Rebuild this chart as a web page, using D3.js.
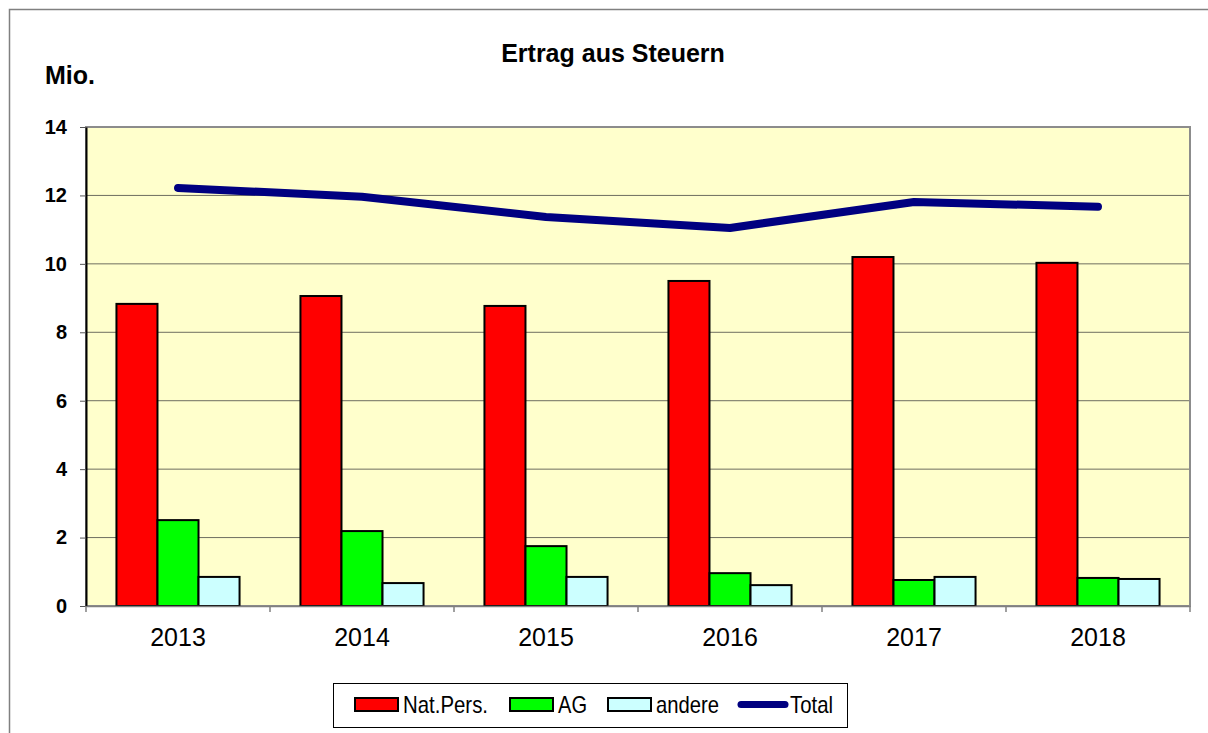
<!DOCTYPE html>
<html>
<head>
<meta charset="utf-8">
<script src="https://cdn.jsdelivr.net/npm/d3@7"></script>
<style>
  body { margin: 0; background: #fff; overflow: hidden; }
  svg { font-family: Arial, "Liberation Sans", sans-serif; display: block; }
</style>
</head>
<body>
<div id="chart"></div>
<script>
// data
const years = ["2013", "2014", "2015", "2016", "2017", "2018"];
const natPers = [8.83, 9.06, 8.77, 9.50, 10.20, 10.03];
const ag = [2.51, 2.19, 1.75, 0.96, 0.76, 0.82];
const andere = [0.85, 0.67, 0.85, 0.61, 0.85, 0.79];
const total = [12.22, 11.96, 11.37, 11.05, 11.81, 11.67];
const yTicks = [0, 2, 4, 6, 8, 10, 12, 14];

const seriesNames = ["Nat.Pers.", "AG", "andere"];
const seriesColors = ["#ff0000", "#00ff00", "#ccffff"];
const seriesData = [natPers, ag, andere];

const W = 1208, H = 733;
const margin = { top: 127, right: 18, bottom: 127, left: 86 };
const width = 1190 - margin.left;
const height = 606 - margin.top;

const svg = d3.select("#chart").append("svg")
  .attr("width", W).attr("height", H);

// outer frame (only left and top edges are visible in the picture)
svg.append("path")
  .attr("d", "M9.5," + H + "V9.5H" + W)
  .attr("fill", "none").attr("stroke", "#808080").attr("stroke-width", 1.5);

const g = svg.append("g")
  .attr("transform", "translate(" + margin.left + "," + margin.top + ")");

const x = d3.scaleBand().domain(years).range([0, width]);
const y = d3.scaleLinear().domain([0, 14]).range([height, 0]);
const barW = x.bandwidth() * 0.223;
const xs = d3.scaleBand().domain(seriesNames)
  .range([0, barW * 3]);

// plot background
g.append("rect")
  .attr("width", width).attr("height", height)
  .attr("fill", "#ffffcc");

// gridlines
g.selectAll(".grid")
  .data(yTicks.filter(d => d > 0))
  .join("line")
  .attr("x1", 0).attr("x2", width)
  .attr("y1", d => y(d)).attr("y2", d => y(d))
  .attr("stroke", "#6e6e60").attr("stroke-width", 1);

// plot border
g.append("rect")
  .attr("width", width).attr("height", height)
  .attr("fill", "none").attr("stroke", "#8c8c8c").attr("stroke-width", 2);

// bars
seriesData.forEach((vals, si) => {
  g.selectAll(".bar" + si)
    .data(vals)
    .join("rect")
    .attr("x", (d, i) => x(years[i]) + (x.bandwidth() - barW * 3) / 2 + xs(seriesNames[si]))
    .attr("y", d => y(d))
    .attr("width", barW)
    .attr("height", d => height - y(d))
    .attr("fill", seriesColors[si])
    .attr("stroke", "#000").attr("stroke-width", 2);
});

// total line
const line = d3.line()
  .x((d, i) => x(years[i]) + x.bandwidth() / 2)
  .y(d => y(d));
g.append("path")
  .datum(total)
  .attr("d", line)
  .attr("fill", "none")
  .attr("stroke", "#000080")
  .attr("stroke-width", 8)
  .attr("stroke-linecap", "round")
  .attr("stroke-linejoin", "round");

// y axis
const yAxis = g.append("g")
  .call(d3.axisLeft(y).tickValues(yTicks).tickSize(6).tickSizeOuter(0).tickPadding(13));
yAxis.select(".domain").attr("stroke", "#000").attr("stroke-width", 2);
yAxis.selectAll(".tick line").attr("stroke", "#555");
yAxis.selectAll("text")
  .attr("font-size", 20).attr("font-weight", "bold")
  .attr("font-family", "Arial, 'Liberation Sans', sans-serif").attr("fill", "#000");

// x axis
const xAxis = g.append("g")
  .attr("transform", "translate(0," + height + ")")
  .call(d3.axisBottom(x).tickSize(0).tickPadding(22));
xAxis.select(".domain").attr("stroke", "#808080").attr("stroke-width", 1.5);
xAxis.selectAll("text")
  .attr("font-size", 25)
  .attr("font-family", "Arial, 'Liberation Sans', sans-serif").attr("fill", "#000");
// category separators
g.selectAll(".xsep")
  .data(d3.range(years.length + 1))
  .join("line")
  .attr("x1", d => d * x.step()).attr("x2", d => d * x.step())
  .attr("y1", height).attr("y2", height + 6)
  .attr("stroke", "#808080").attr("stroke-width", 1.5);

// titles
svg.append("text")
  .attr("x", 613).attr("y", 62)
  .attr("text-anchor", "middle")
  .attr("font-size", 25).attr("font-weight", "bold")
  .text("Ertrag aus Steuern");
svg.append("text")
  .attr("x", 45).attr("y", 84)
  .attr("font-size", 25).attr("font-weight", "bold")
  .text("Mio.");

// legend
const legend = svg.append("g");
legend.append("rect")
  .attr("x", 333.5).attr("y", 683.5)
  .attr("width", 514).attr("height", 44)
  .attr("fill", "#fff").attr("stroke", "#000").attr("stroke-width", 1);

const legendX = [355, 510, 608];
const legendTextW = [85, 29, 63];
seriesNames.forEach((name, i) => {
  legend.append("rect")
    .attr("x", legendX[i]).attr("y", 698)
    .attr("width", 43).attr("height", 13)
    .attr("fill", seriesColors[i])
    .attr("stroke", "#000").attr("stroke-width", 2);
  legend.append("text")
    .attr("x", legendX[i] + 48).attr("y", 713)
    .attr("font-size", 24)
    .attr("textLength", legendTextW[i])
    .attr("lengthAdjust", "spacingAndGlyphs")
    .text(name);
});
legend.append("line")
  .attr("x1", 741).attr("x2", 785)
  .attr("y1", 704.5).attr("y2", 704.5)
  .attr("stroke", "#000080").attr("stroke-width", 7)
  .attr("stroke-linecap", "round");
legend.append("text")
  .attr("x", 790).attr("y", 713)
  .attr("font-size", 24)
  .attr("textLength", 43)
  .attr("lengthAdjust", "spacingAndGlyphs")
  .text("Total");
</script>
</body>
</html>
